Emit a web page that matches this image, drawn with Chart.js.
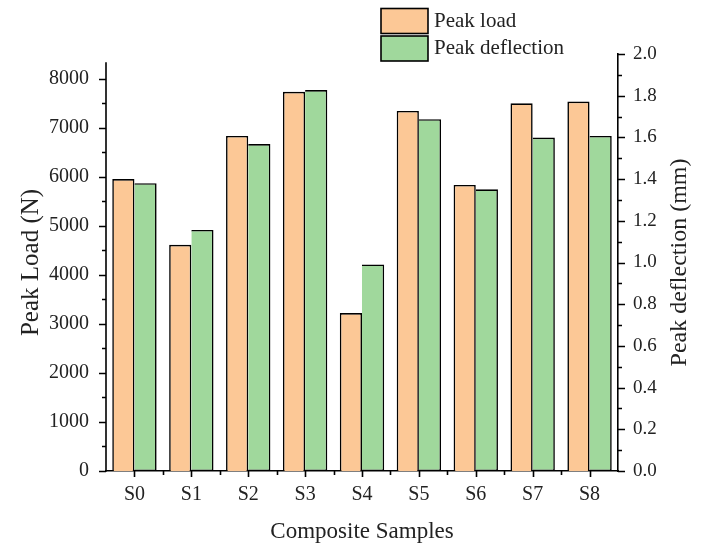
<!DOCTYPE html>
<html><head><meta charset="utf-8">
<script src="https://cdn.jsdelivr.net/npm/chart.js@4"></script>
<style>html,body{margin:0;padding:0;background:#fff;}#wrap{width:701px;height:546px;position:relative;}</style>
</head><body><div id="wrap"><canvas id="c" width="701" height="546"></canvas></div>
<script>
const categories = ['S0','S1','S2','S3','S4','S5','S6','S7','S8'];
const peakLoad = [5950, 4610, 6830, 7730, 3220, 7340, 5830, 7495, 7530];
const peakDeflection = [1.38, 1.156, 1.568, 1.827, 0.991, 1.687, 1.351, 1.599, 1.607];
const loadTicks = [0,1000,2000,3000,4000,5000,6000,7000,8000];
const deflectionTicks = [0,0.2,0.4,0.6,0.8,1.0,1.2,1.4,1.6,1.8,2.0];
const seriesNames = ['Peak load','Peak deflection'];
const axisTitles = {x: 'Composite Samples', y: 'Peak Load (N)', y1: 'Peak deflection (mm)'};

const FONT = '"Liberation Serif", "Times New Roman", serif';
const ORANGE = '#fcc896';
const GREEN = '#a0d89c';
const INK = '#222';
const LOAD_MAX = 8500, LOAD_AXIS_TOP = 8330, DEF_MAX = 2;

const drawPlugin = {
  id: 'extraDraw',
  afterDraw(chart) {
    const ctx = chart.ctx;
    const {x, y, y1} = chart.scales;
    ctx.save();
    ctx.strokeStyle = '#000';
    ctx.lineWidth = 1.6;
    ctx.beginPath();
    // left axis line (shorter than right axis)
    ctx.moveTo(y.right, y.getPixelForValue(LOAD_AXIS_TOP));
    ctx.lineTo(y.right, y.getPixelForValue(0) + 0.8);
    // left axis ticks
    for (let v = 0; v <= LOAD_AXIS_TOP; v += 500) {
      const py = Math.round(y.getPixelForValue(v)) + 0.5;
      const len = (v % 1000 === 0) ? 7 : 4;
      ctx.moveTo(y.right, py); ctx.lineTo(y.right - len, py);
    }
    // right axis ticks
    for (let i = 0; i <= 20; i++) {
      const py = Math.round(y1.getPixelForValue(i / 10)) + 0.5;
      const len = (i % 2 === 0) ? 7 : 4;
      ctx.moveTo(y1.left, py); ctx.lineTo(y1.left + len, py);
    }
    // x axis ticks
    for (let i = 0; i < categories.length; i++) {
      const px = Math.round(x.getPixelForValue(i)) + 0.5;
      ctx.moveTo(px, x.top); ctx.lineTo(px, x.top + 6);
      const pm = Math.round(x.getPixelForValue(i - 0.5)) + 0.5;
      if (i > 0) { ctx.moveTo(pm, x.top); ctx.lineTo(pm, x.top + 4); }
    }
    ctx.stroke();

    // right axis title (reads bottom to top)
    ctx.fillStyle = INK;
    ctx.font = '24px ' + FONT;
    ctx.textAlign = 'center';
    ctx.textBaseline = 'middle';
    ctx.translate(680, (y1.top + y1.bottom) / 2);
    ctx.rotate(-Math.PI / 2);
    ctx.fillText(axisTitles.y1, 0, 0);
    ctx.setTransform(1, 0, 0, 1, 0, 0);

    // legend
    ctx.font = '21px ' + FONT;
    ctx.textAlign = 'left';
    chart.data.datasets.forEach((d, i) => {
      const top = 8.5 + i * 27.5;
      ctx.fillStyle = d.backgroundColor;
      ctx.fillRect(381, top, 47, 25);
      ctx.lineWidth = 1.6;
      ctx.strokeStyle = '#000';
      ctx.strokeRect(381, top, 47, 25);
      ctx.fillStyle = INK;
      ctx.fillText(d.label, 434, top + 12.5);
    });
    ctx.restore();
  }
};

new Chart(document.getElementById('c'), {
  type: 'bar',
  data: {
    labels: categories,
    datasets: [
      {label: seriesNames[0], data: peakLoad, yAxisID: 'y', backgroundColor: ORANGE, borderColor: '#000', borderWidth: 1.6, borderSkipped: 'bottom', barPercentage: 1, categoryPercentage: 0.78},
      {label: seriesNames[1], data: peakDeflection, yAxisID: 'y1', backgroundColor: GREEN, borderColor: '#000', borderWidth: 1.6, borderSkipped: 'left', barPercentage: 1, categoryPercentage: 0.78}
    ]
  },
  options: {
    responsive: false,
    animation: false,
    devicePixelRatio: 1,
    layout: {padding: {top: 54, left: 0, right: 0, bottom: 0}},
    plugins: {legend: {display: false}, tooltip: {enabled: false}},
    scales: {
      x: {
        grid: {display: false},
        border: {color: '#000', width: 1.6},
        ticks: {color: INK, font: {family: FONT, size: 20}, padding: 4},
        title: {display: true, text: axisTitles.x, color: INK, font: {family: FONT, size: 23}, padding: 0},
        afterFit: s => { s.height = 75; }
      },
      y: {
        position: 'left', min: 0, max: LOAD_MAX,
        grid: {display: false},
        border: {display: false},
        afterBuildTicks: s => { s.ticks = loadTicks.map(v => ({value: v})); },
        ticks: {color: INK, font: {family: FONT, size: 20}, padding: 9, callback: v => String(v)},
        title: {display: true, text: axisTitles.y, color: INK, font: {family: FONT, size: 25}, padding: {top: 16, bottom: 0}},
        afterFit: s => { s.width = 106; }
      },
      y1: {
        position: 'right', min: 0, max: DEF_MAX,
        grid: {display: false},
        border: {color: '#000', width: 1.6},
        afterBuildTicks: s => { s.ticks = deflectionTicks.map(v => ({value: v})); },
        ticks: {color: INK, font: {family: FONT, size: 19}, padding: 7, callback: v => Number(v).toFixed(1)},
        title: {display: false},
        afterFit: s => { s.width = 83; }
      }
    }
  },
  plugins: [drawPlugin]
});
</script></body></html>
